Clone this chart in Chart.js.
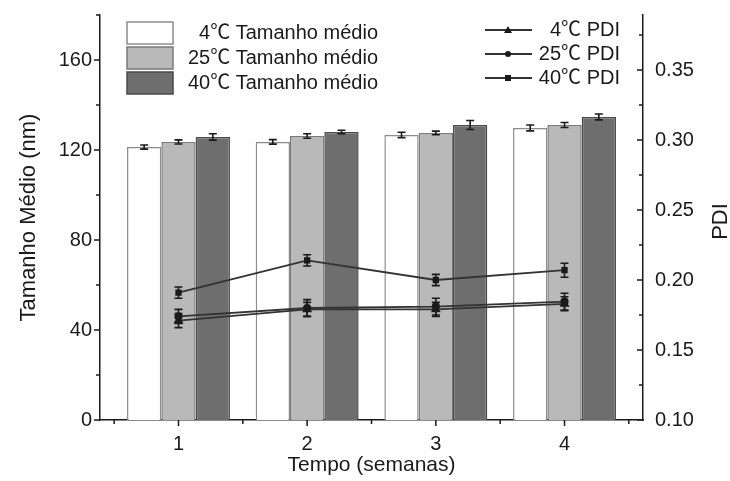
<!DOCTYPE html>
<html>
<head>
<meta charset="utf-8">
<script src="https://cdn.jsdelivr.net/npm/chart.js@4/dist/chart.umd.min.js"></script>
<style>
  html, body { margin: 0; padding: 0; background: #fff; }
</style>
</head>
<body>
<canvas id="grafico" width="730" height="481"></canvas>
<script>
/* Tamanho médio e PDI ao longo do tempo (4, 25 e 40 ℃) */
const semanas = [1, 2, 3, 4];
const temperaturas = ["4℃", "25℃", "40℃"];

// tamanho médio (nm) e desvio
const tamanho4 = [121.3, 123.6, 126.7, 129.8];
const tamanho25 = [123.6, 126.2, 127.6, 131.1];
const tamanho40 = [125.8, 128.0, 131.1, 134.7];
const erroTam4 = [0.9, 1.0, 1.2, 1.3];
const erroTam25 = [0.9, 1.0, 0.8, 1.1];
const erroTam40 = [1.4, 0.8, 2.0, 1.3];

// PDI e desvio
const pdi4 = [0.171, 0.179, 0.179, 0.183];
const pdi25 = [0.174, 0.180, 0.181, 0.1845];
const pdi40 = [0.191, 0.214, 0.200, 0.207];
const erroPdi4 = [0.005, 0.005, 0.005, 0.005];
const erroPdi25 = [0.005, 0.006, 0.006, 0.006];
const erroPdi40 = [0.004, 0.004, 0.004, 0.005];

// marcas dos eixos
const ticksTamanho = [0, 40, 80, 120, 160];
const ticksPdi = [0.10, 0.15, 0.20, 0.25, 0.30, 0.35];

const FONTE = "'Liberation Sans', Arial, 'Noto Sans CJK SC', sans-serif";
const PRETO = "#1a1a1a";

// barras de erro
const barrasErro = {
  id: "barrasErro",
  afterDatasetsDraw(chart) {
    const ctx = chart.ctx;
    chart.data.datasets.forEach((ds, i) => {
      const meta = chart.getDatasetMeta(i);
      const sc = chart.scales[meta.yAxisID];
      ctx.save();
      ctx.strokeStyle = PRETO;
      ctx.lineWidth = 1.6;
      meta.data.forEach((el, j) => {
        const v = ds.data[j], e = ds.erro[j];
        const yA = sc.getPixelForValue(v + e);
        const yB = sc.getPixelForValue(v - e);
        const w = 4;
        ctx.beginPath();
        ctx.moveTo(el.x, yA); ctx.lineTo(el.x, yB);
        ctx.moveTo(el.x - w, yA); ctx.lineTo(el.x + w, yA);
        ctx.moveTo(el.x - w, yB); ctx.lineTo(el.x + w, yB);
        ctx.stroke();
      });
      ctx.restore();
    });
  }
};

// tracinhos maiores e menores dos eixos
const marcasEixos = {
  id: "marcasEixos",
  afterDraw(chart) {
    const { ctx, chartArea: a, scales } = chart;
    ctx.save();
    ctx.strokeStyle = PRETO;
    ctx.lineWidth = 1.5;
    ctx.beginPath();
    semanas.forEach(v => {
      let p = scales.x.getPixelForValue(v);
      ctx.moveTo(p, a.bottom); ctx.lineTo(p, a.bottom + 6);
      p = scales.x.getPixelForValue(v - 0.5);
      ctx.moveTo(p, a.bottom); ctx.lineTo(p, a.bottom + 4);
    });
    let p = scales.x.getPixelForValue(semanas[semanas.length - 1] + 0.5);
    ctx.moveTo(p, a.bottom); ctx.lineTo(p, a.bottom + 4);
    ticksTamanho.forEach(v => {
      let q = scales.y.getPixelForValue(v);
      ctx.moveTo(a.left, q); ctx.lineTo(a.left - 6, q);
      q = scales.y.getPixelForValue(v + 20);
      ctx.moveTo(a.left, q); ctx.lineTo(a.left - 4, q);
    });
    ticksPdi.forEach(v => {
      let q = scales.y1.getPixelForValue(v);
      ctx.moveTo(a.right, q); ctx.lineTo(a.right - 6, q);
      q = scales.y1.getPixelForValue(v + 0.025);
      ctx.moveTo(a.right, q); ctx.lineTo(a.right - 4, q);
    });
    ctx.stroke();

    // título do eixo direito, lido de baixo para cima
    ctx.translate(721, (a.top + a.bottom) / 2 + 4);
    ctx.rotate(-Math.PI / 2);
    ctx.font = "22px " + FONTE;
    ctx.fillStyle = PRETO;
    ctx.textAlign = "center";
    ctx.textBaseline = "middle";
    ctx.fillText("PDI", 0, 0);
    ctx.restore();
  }
};

function marcador(ctx, estilo, x, y) {
  ctx.beginPath();
  if (estilo === "triangle") {
    ctx.moveTo(x, y - 4); ctx.lineTo(x + 4, y + 3); ctx.lineTo(x - 4, y + 3); ctx.closePath();
  } else if (estilo === "rect") {
    ctx.rect(x - 3, y - 3, 6, 6);
  } else {
    ctx.arc(x, y, 3, 0, Math.PI * 2);
  }
  ctx.fill();
}

// legenda desenhada à mão (duas colunas)
const legenda = {
  id: "legenda",
  afterDraw(chart) {
    const ctx = chart.ctx;
    ctx.save();
    ctx.font = "20px " + FONTE;
    ctx.textAlign = "right";
    ctx.textBaseline = "middle";
    const ds = chart.data.datasets;
    ds.filter(d => d.type === "bar").forEach((d, i) => {
      const yc = 33 + i * 25;
      ctx.fillStyle = d.backgroundColor;
      ctx.fillRect(127, yc - 11, 46, 22);
      ctx.strokeStyle = d.borderColor;
      ctx.lineWidth = 1.5;
      ctx.strokeRect(127, yc - 11, 46, 22);
      ctx.fillStyle = PRETO;
      ctx.fillText(d.label, 378, yc);
    });
    ds.filter(d => d.type === "line").forEach((d, i) => {
      const yc = 30 + i * 24;
      ctx.strokeStyle = d.borderColor;
      ctx.lineWidth = 1.8;
      ctx.beginPath();
      ctx.moveTo(485, yc); ctx.lineTo(532, yc);
      ctx.stroke();
      ctx.fillStyle = PRETO;
      marcador(ctx, d.pointStyle, 508, yc);
      ctx.fillText(d.label, 620, yc);
    });
    ctx.restore();
  }
};

function barra(rotulo, dados, erro, fundo, borda) {
  return {
    type: "bar", label: rotulo, data: dados, erro: erro,
    backgroundColor: fundo, borderColor: borda, borderWidth: 1.5,
    yAxisID: "y", order: 2
  };
}
function linha(rotulo, dados, erro, estilo) {
  return {
    type: "line", label: rotulo, data: dados, erro: erro,
    borderColor: "#333", borderWidth: 1.8, backgroundColor: PRETO,
    pointStyle: estilo, pointRadius: estilo === "triangle" ? 4 : 3.2,
    pointBackgroundColor: PRETO, pointBorderColor: PRETO,
    yAxisID: "y1", order: 1, tension: 0
  };
}

// sem folga extra dos rótulos: a área do gráfico fica fixa
function semFolga(s) {
  s.paddingTop = 0; s.paddingBottom = 0; s.paddingLeft = 0; s.paddingRight = 0;
}

const ctx = document.getElementById("grafico").getContext("2d");
new Chart(ctx, {
  data: {
    labels: semanas,
    datasets: [
      barra(temperaturas[0] + " Tamanho médio", tamanho4, erroTam4, "#ffffff", "#8c8c8c"),
      barra(temperaturas[1] + " Tamanho médio", tamanho25, erroTam25, "#b9b9b9", "#7a7a7a"),
      barra(temperaturas[2] + " Tamanho médio", tamanho40, erroTam40, "#6e6e6e", "#4a4a4a"),
      linha(temperaturas[0] + " PDI", pdi4, erroPdi4, "triangle"),
      linha(temperaturas[1] + " PDI", pdi25, erroPdi25, "circle"),
      linha(temperaturas[2] + " PDI", pdi40, erroPdi40, "rect")
    ]
  },
  options: {
    responsive: false,
    animation: false,
    devicePixelRatio: 1,
    layout: { padding: { top: 15, left: 0, right: 0, bottom: 0 } },
    datasets: { bar: { categoryPercentage: 0.8, barPercentage: 1.0 } },
    plugins: { legend: { display: false }, tooltip: { enabled: false } },
    scales: {
      x: {
        type: "linear", position: "bottom", offset: false,
        min: 0.39, max: 4.61,
        afterBuildTicks: s => { s.ticks = semanas.map(v => ({ value: v })); },
        afterFit: s => { s.height = 61; semFolga(s); },
        grid: { display: false, drawTicks: false },
        border: { display: true, color: PRETO, width: 1.5 },
        ticks: { padding: 12, color: PRETO, font: { family: FONTE, size: 20 }, callback: v => String(v) },
        title: { display: true, text: "Tempo (semanas)", color: PRETO, font: { family: FONTE, size: 21 }, padding: { top: 0, bottom: 3 } }
      },
      y: {
        type: "linear", position: "left", min: 0, max: 180,
        afterBuildTicks: s => { s.ticks = ticksTamanho.map(v => ({ value: v })); },
        afterFit: s => { s.width = 100; semFolga(s); },
        grid: { display: false, drawTicks: false },
        border: { display: true, color: PRETO, width: 1.5 },
        ticks: { padding: 8, color: PRETO, font: { family: FONTE, size: 20 }, callback: v => String(v) },
        title: { display: true, text: "Tamanho Médio (nm)", color: PRETO, font: { family: FONTE, size: 22 }, padding: { top: 16, bottom: 0 } }
      },
      y1: {
        type: "linear", position: "right", min: 0.10, max: 0.3893,
        afterBuildTicks: s => { s.ticks = ticksPdi.map(v => ({ value: v })); },
        afterFit: s => { s.width = 87; semFolga(s); },
        grid: { display: false, drawTicks: false },
        border: { display: true, color: PRETO, width: 1.5 },
        ticks: { padding: 12, color: PRETO, font: { family: FONTE, size: 20 }, callback: v => v.toFixed(2) },
        title: { display: false }
      }
    }
  },
  plugins: [barrasErro, marcasEixos, legenda]
});
</script>
</body>
</html>
